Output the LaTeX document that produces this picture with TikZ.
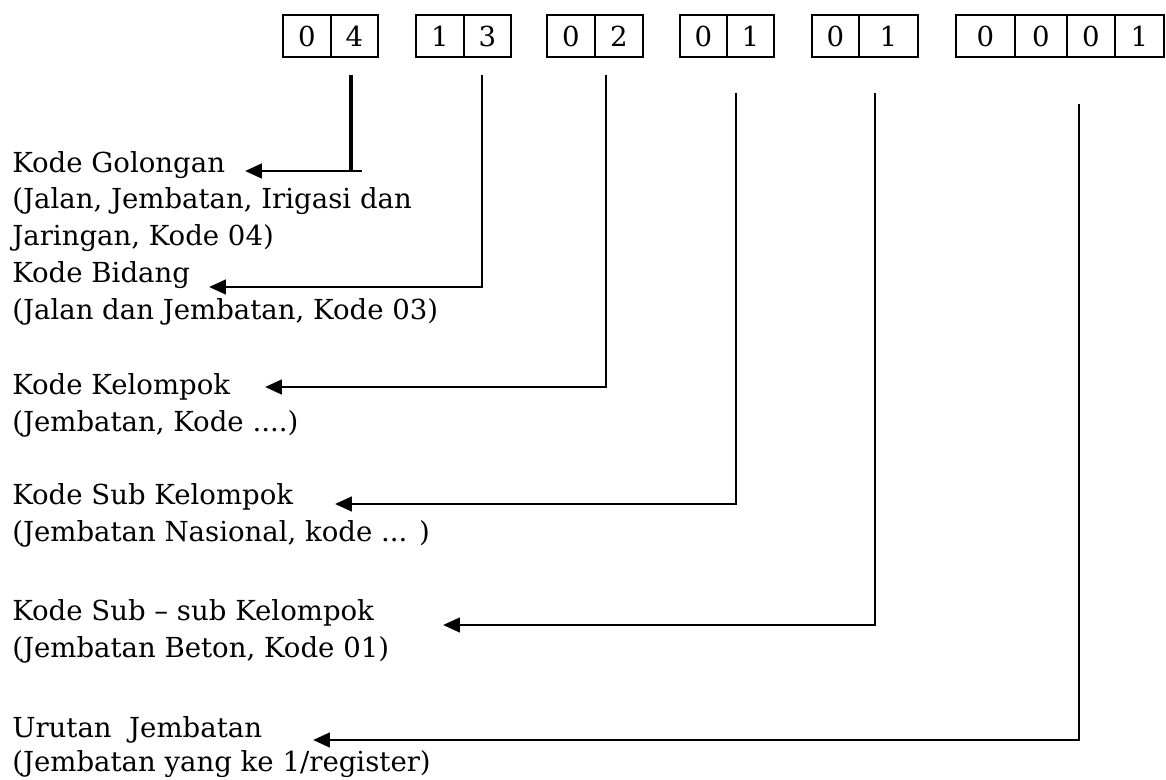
\documentclass[tikz,border=0pt]{standalone}
\usepackage{fontspec}
\setmainfont{DejaVu Serif}
\usetikzlibrary{arrows.meta}

\begin{document}
\begin{tikzpicture}[x=0.025cm,y=-0.025cm,
  cell/.style={draw=black,line width=1.6pt,minimum height=1.05cm,minimum width=1.2cm},
  lbl/.style={anchor=base west},
  conn/.style={draw=black,line width=2.1pt},
  arr/.style={conn,-{Triangle[length=0.42cm,width=0.36cm]}}]
\tikzstyle{every node}+=[inner sep=0pt,font=\fontsize{19.6pt}{24pt}\selectfont]
\useasboundingbox (0,0) rectangle (1166,780);
\node [cell] (a1) at (307,36) {0};
\node [cell,minimum width=1.175cm] (a2) at (354.5,36) {4};
\node [cell] (b1) at (440,36) {1};
\node [cell,minimum width=1.175cm] (b2) at (487.5,36) {3};
\node [cell] (c1) at (571,36) {0};
\node [cell] (c2) at (619,36) {2};
\node [cell,minimum width=1.175cm] (d1) at (703.5,36) {0};
\node [cell,minimum width=1.175cm] (d2) at (750.5,36) {1};
\node [cell,minimum width=1.175cm] (e1) at (835.5,36) {0};
\node [cell,minimum width=1.475cm] (e2) at (888.5,36) {1};
\node [cell,minimum width=1.475cm] (f1) at (985.5,36) {0};
\node [cell,minimum width=1.3cm] (f2) at (1041,36) {0};
\node [cell] (f3) at (1091,36) {0};
\node [cell,minimum width=1.225cm] (f4) at (1139.5,36) {1};
\node [lbl] (golongan) at (12,173) {Kode Golongan};
\node [lbl] (golongan2) at (12,209) {(Jalan, Jembatan, Irigasi dan};
\node [lbl] (golongan3) at (12,246) {Jaringan, Kode 04)};
\node [lbl] (bidang) at (12,283) {Kode Bidang};
\node [lbl] (bidang2) at (12,320) {(Jalan dan Jembatan, Kode 03)};
\node [lbl] (kelompok) at (12,395) {Kode Kelompok};
\node [lbl] (kelompok2) at (12,432) {(Jembatan, Kode ....)};
\node [lbl] (subkel) at (12,505) {Kode Sub Kelompok};
\node [lbl] (subkel2) at (12,542) {(Jembatan Nasional, kode ... )};
\node [lbl] (subsub) at (12,620) {Kode Sub – sub Kelompok};
\node [lbl] (subsub2) at (12,657) {(Jembatan Beton, Kode 01)};
\node [lbl] (urutan) at (12,737) {Urutan\ \ Jembatan};
\node [lbl] (urutan2) at (12,771) {(Jembatan yang ke 1/register)};
\coordinate (s1) at (351,75);
\coordinate (k1) at (362,171);
\coordinate (t1) at (245,171);
\coordinate (s2) at (482,75);
\coordinate (t2) at (209,287);
\coordinate (s3) at (606,75);
\coordinate (t3) at (265,387);
\coordinate (s4) at (736,93);
\coordinate (t4) at (335,504);
\coordinate (s5) at (875,93);
\coordinate (t5) at (443,625);
\coordinate (s6) at (1079,104);
\coordinate (t6) at (313,740);
\draw [conn,line width=3.4pt] (s1) -- (s1 |- k1);
\draw [arr] (k1) -- (t1);
\draw [arr] (s2) |- (t2);
\draw [arr] (s3) |- (t3);
\draw [arr] (s4) |- (t4);
\draw [arr] (s5) |- (t5);
\draw [arr] (s6) |- (t6);
\end{tikzpicture}
\end{document}
